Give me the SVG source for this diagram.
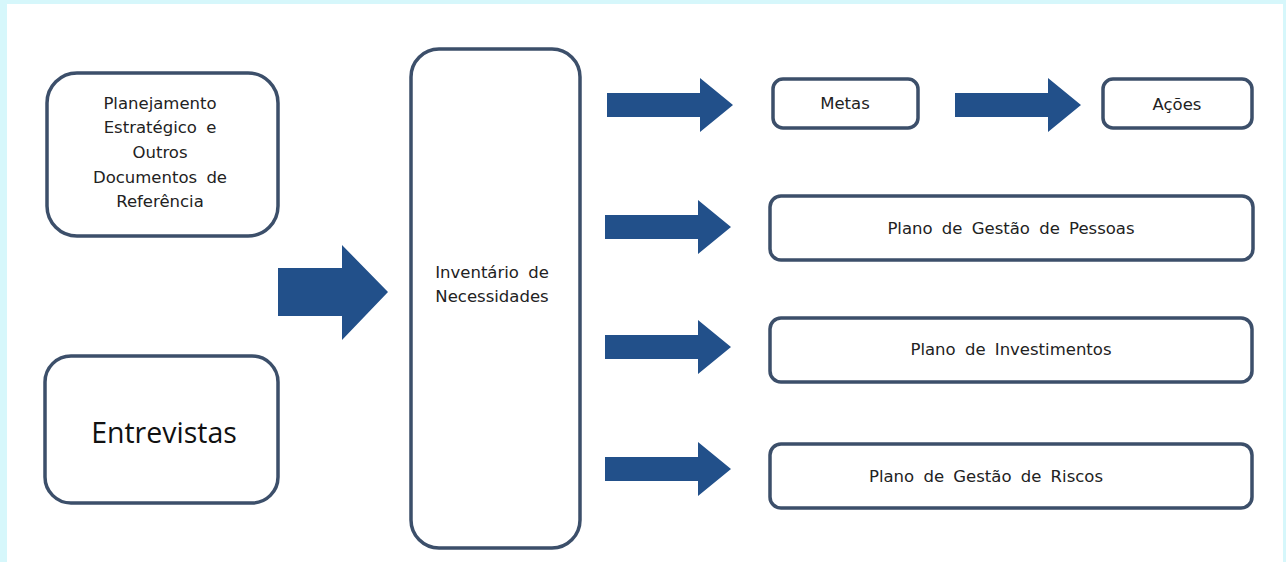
<svg xmlns="http://www.w3.org/2000/svg" width="1286" height="562" viewBox="0 0 1286 562">
<style>
.box{fill:#ffffff;stroke:#3c4f6a;stroke-width:3.5}
.arr{fill:#22508a}
.t{font-family:"DejaVu Sans",Verdana,sans-serif;font-size:16.5px;fill:#222;text-anchor:middle;word-spacing:4px}
.big{font-family:"Open Sans","Liberation Sans",sans-serif;font-size:28.5px;fill:#111;text-anchor:middle}
</style>
<defs>
<path id="a" d="M0,-12 L93,-12 L93,-27 L126,0 L93,27 L93,12 L0,12 Z"/>
</defs>
<rect x="0" y="0" width="1286" height="562" fill="#d6f7fb"/>
<rect x="7" y="4" width="1276" height="558" fill="#ffffff"/>
<g id="n-planejamento">
<rect class="box" x="47" y="73" width="231" height="163" rx="30"/>
<text class="t" x="160" y="109">Planejamento</text>
<text class="t" x="160" y="133">Estratégico e</text>
<text class="t" x="160" y="158">Outros</text>
<text class="t" x="160" y="183">Documentos de</text>
<text class="t" x="160" y="207">Referência</text>
</g>
<g id="n-entrevistas">
<rect class="box" x="45" y="356" width="233" height="147" rx="26"/>
<text class="big" x="164" y="443">Entrevistas</text>
</g>
<g id="n-inventario">
<rect class="box" x="411" y="49" width="169" height="499" rx="28"/>
<text class="t" x="492" y="278">Inventário de</text>
<text class="t" x="492" y="302">Necessidades</text>
</g>
<g id="n-metas">
<rect class="box" x="773" y="79" width="145" height="49" rx="10"/>
<text class="t" x="845" y="109">Metas</text>
</g>
<g id="n-acoes">
<rect class="box" x="1103" y="79" width="149" height="49" rx="10"/>
<text class="t" x="1177" y="110">Ações</text>
</g>
<g id="n-pessoas">
<rect class="box" x="770" y="196" width="483" height="64" rx="11"/>
<text class="t" x="1011" y="234">Plano de Gestão de Pessoas</text>
</g>
<g id="n-investimentos">
<rect class="box" x="770" y="318" width="482" height="64" rx="11"/>
<text class="t" x="1011" y="355">Plano de Investimentos</text>
</g>
<g id="n-riscos">
<rect class="box" x="770" y="444" width="482" height="64" rx="11"/>
<text class="t" x="986" y="482">Plano de Gestão de Riscos</text>
</g>
<g id="connectors">
<path class="arr" d="M278,268 L342,268 L342,245 L388,292 L342,340 L342,316 L278,316 Z"/>
<use href="#a" class="arr" transform="translate(607,105)"/>
<use href="#a" class="arr" transform="translate(955,105)"/>
<use href="#a" class="arr" transform="translate(605,227)"/>
<use href="#a" class="arr" transform="translate(605,347)"/>
<use href="#a" class="arr" transform="translate(605,469)"/>
</g>
</svg>
